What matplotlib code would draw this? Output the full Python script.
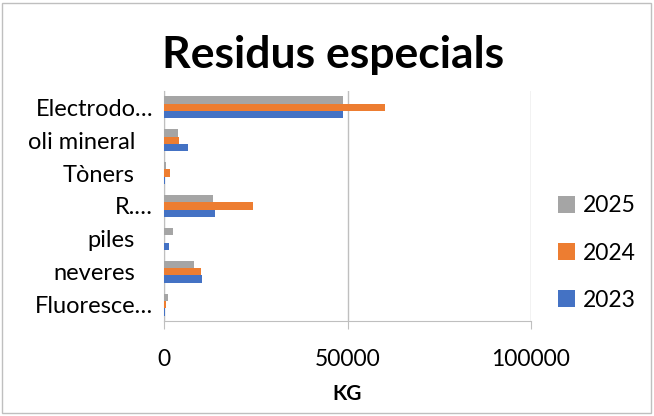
import numpy as np
import matplotlib
matplotlib.use("Agg")
from matplotlib import pyplot as plt
from matplotlib.patches import Rectangle
from matplotlib.transforms import ScaledTranslation

plt.rcParams['font.family'] = ['Lato', 'DejaVu Sans']

# data (kg)
categories = ["Fluoresce…", "neveres", "piles", "R.…", "Tòners", "oli mineral", "Electrodo…"]
years = ["2023", "2024", "2025"]
kg_2023 = [360, 10350, 1450, 13800, 180, 6450, 48900]
kg_2024 = [450, 10000, 0, 24200, 1550, 4100, 60200]
kg_2025 = [1100, 8270, 2550, 13450, 550, 3900, 48700]
x_ticks = [0, 50000, 100000]

COLORS = {"2023": "#4472C4", "2024": "#ED7D31", "2025": "#A5A5A5"}
BAR_H = 0.224

fig = plt.figure(figsize=(6.54, 4.16), dpi=100)
ax = fig.add_axes([164 / 654, 95 / 416, 367 / 654, 230 / 416])

y = np.arange(len(categories))
series = [kg_2023, kg_2024, kg_2025]
bars = {}
for i, (yr, vals) in enumerate(zip(years, series)):
    bars[yr] = ax.barh(y + (i - 1) * BAR_H, vals, height=BAR_H, color=COLORS[yr], zorder=3)

ax.set_xlim(0, 100000)
ax.set_ylim(-0.5, len(categories) - 0.5)
ax.set_xticks(x_ticks)
ax.set_xticklabels([str(t) for t in x_ticks], fontsize=16.5)
ax.set_yticks(y)
ax.set_yticklabels(categories, fontsize=17)
ax.tick_params(axis='y', length=0, pad=8)
ax.tick_params(axis='x', length=6, color='#BFBFBF', pad=14, direction='out')
ax.xaxis.grid(True, color='#BFBFBF', linewidth=1, zorder=0)

# labels that are not cut with an ellipsis sit a bit further left, like in excel
shift = ScaledTranslation(-18 / 100, 0, fig.dpi_scale_trans)
for lab in ax.get_yticklabels():
    if not lab.get_text().endswith("…"):
        lab.set_transform(lab.get_transform() + shift)

for s in ['top', 'right']:
    ax.spines[s].set_visible(False)
ax.spines['left'].set_color('#BFBFBF')
ax.spines['bottom'].set_color('#BFBFBF')

ax.set_xlabel("KG", fontsize=15, fontweight='bold', labelpad=10)
fig.text(333 / 654, 1 - 55 / 416, "Residus especials", fontsize=32, fontweight='bold',
         ha='center', va='center')

handles = [bars[yr] for yr in reversed(years)]
ax.legend(handles, list(reversed(years)), loc='center left', bbox_to_anchor=(537 / 654, 1 - 253 / 416),
          bbox_transform=fig.transFigure, frameon=False, fontsize=16.5,
          labelspacing=1.15, handlelength=0.75, handleheight=0.75, handletextpad=0.35)

fig.patches.append(Rectangle((2 / 654, 3 / 416), 649 / 654, 410 / 416, transform=fig.transFigure,
                             fill=False, edgecolor='#BFBFBF', linewidth=1))

fig.savefig("out.png", dpi=100)
